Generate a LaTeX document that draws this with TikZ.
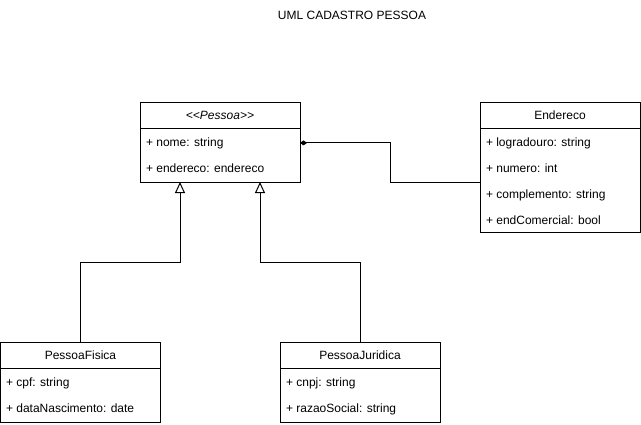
\documentclass[tikz,border=0pt]{standalone}
\usepackage{fontspec}
\setmainfont{Liberation Sans}
\usetikzlibrary{positioning,arrows.meta}

\begin{document}
\begin{tikzpicture}[x=1pt,y=-1pt,line width=1pt,
    every node/.style={font=\fontsize{12}{14}\selectfont,inner sep=0pt,outer sep=0pt},
    head/.style={draw,minimum width=160pt,minimum height=26pt},
    body/.style={draw,minimum width=160pt,below=0pt of #1},
    attr/.style={anchor=base west},
    inherit/.style={-{Triangle[open,length=11pt,width=10pt]}},
    compose/.style={-{Diamond[length=7pt,width=5pt]}}]
  \useasboundingbox (0,0) rectangle (641,424);
  \node (title) at (352,15) {UML CADASTRO PESSOA};
  % Pessoa
  \node[head] (p) at (220,115) {\itshape <\kern0pt<Pessoa>\kern0pt>};
  \node[body=p,minimum height=54pt] (pb) {};
  \node[attr] (p1) at (146,146) {+ nome: string};
  \node[attr] (p2) at (146,172) {+ endereco: endereco};
  % Endereco
  \node[head] (e) at (560,115) {Endereco};
  \node[body=e,minimum height=104pt] (eb) {};
  \node[attr] (e1) at (486,146) {+ logradouro: string};
  \node[attr] (e2) at (486,172) {+ numero: int};
  \node[attr] (e3) at (486,198) {+ complemento: string};
  \node[attr] (e4) at (486,224) {+ endComercial: bool};
  % PessoaFisica
  \node[head] (pf) at (80.5,355) {PessoaFisica};
  \node[body=pf,minimum height=54pt] (pfb) {};
  \node[attr] (pf1) at (6,386) {+ cpf: string};
  \node[attr] (pf2) at (6,412) {+ dataNascimento: date};
  % PessoaJuridica
  \node[head] (pj) at (360,355) {PessoaJuridica};
  \node[body=pj,minimum height=54pt] (pjb) {};
  \node[attr] (pj1) at (286,386) {+ cnpj: string};
  \node[attr] (pj2) at (286,412) {+ razaoSocial: string};

  \draw[compose] ([yshift=-2pt]eb.west) -- ++(-90,0) |- (p1 -| pb.east);
  \draw[inherit] (pf.north) -- ++(0,-80) -| ([xshift=40pt]pb.south west);
  \draw[inherit] (pj.north) -- ++(0,-80) -| ([xshift=-40pt]pb.south east);
\end{tikzpicture}
\end{document}
